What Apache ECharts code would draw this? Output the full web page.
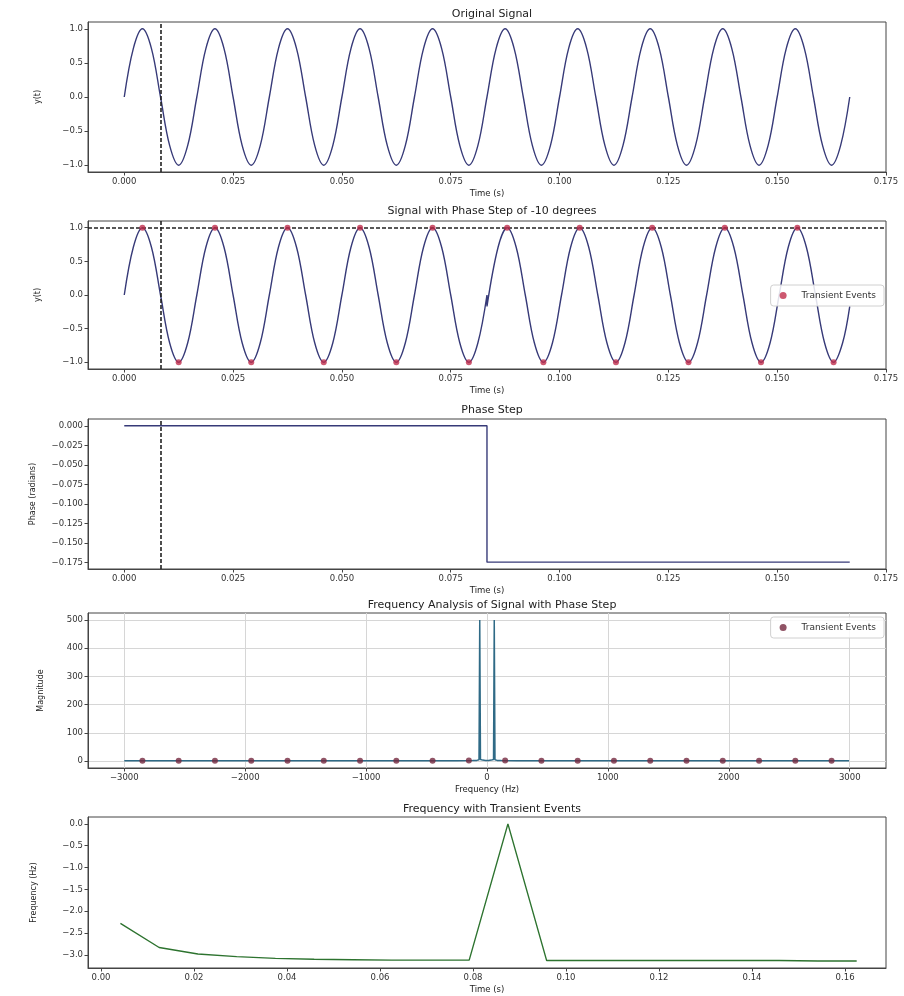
<!DOCTYPE html>
<html>
<head>
<meta charset="utf-8">
<title>Phase step analysis</title>
<script src="https://cdn.jsdelivr.net/npm/echarts@6/dist/echarts.min.js"></script>
<style>
  html, body { margin: 0; padding: 0; background: #fff; }
  #chart { width: 904px; height: 996px; }
</style>
</head>
<body>
<div id="chart"></div>
<script>
// 60 Hz signal, read at every eighth of a period
const signalTime = [0, 0.00208, 0.00417, 0.00625, 0.00833, 0.01042, 0.0125, 0.01458, 0.01667, 0.01875,
  0.02083, 0.02292, 0.025, 0.02708, 0.02917, 0.03125, 0.03333, 0.03542, 0.0375, 0.03958,
  0.04167, 0.04375, 0.04583, 0.04792, 0.05, 0.05208, 0.05417, 0.05625, 0.05833, 0.06042,
  0.0625, 0.06458, 0.06667, 0.06875, 0.07083, 0.07292, 0.075, 0.07708, 0.07917, 0.08125,
  0.08333, 0.08542, 0.0875, 0.08958, 0.09167, 0.09375, 0.09583, 0.09792, 0.1, 0.10208,
  0.10417, 0.10625, 0.10833, 0.11042, 0.1125, 0.11458, 0.11667, 0.11875, 0.12083, 0.12292,
  0.125, 0.12708, 0.12917, 0.13125, 0.13333, 0.13542, 0.1375, 0.13958, 0.14167, 0.14375,
  0.14583, 0.14792, 0.15, 0.15208, 0.15417, 0.15625, 0.15833, 0.16042, 0.1625, 0.16458, 0.16667];
const signalValues = [0, 0.71, 1, 0.71, 0, -0.71, -1, -0.71,
  0, 0.71, 1, 0.71, 0, -0.71, -1, -0.71,
  0, 0.71, 1, 0.71, 0, -0.71, -1, -0.71,
  0, 0.71, 1, 0.71, 0, -0.71, -1, -0.71,
  0, 0.71, 1, 0.71, 0, -0.71, -1, -0.71,
  0, 0.71, 1, 0.71, 0, -0.71, -1, -0.71,
  0, 0.71, 1, 0.71, 0, -0.71, -1, -0.71,
  0, 0.71, 1, 0.71, 0, -0.71, -1, -0.71,
  0, 0.71, 1, 0.71, 0, -0.71, -1, -0.71,
  0, 0.71, 1, 0.71, 0, -0.71, -1, -0.71, 0];

// same signal with a -10 degree phase step at 0.0833 s
const stepTime = [0, 0.00208, 0.00417, 0.00625, 0.00833, 0.01042, 0.0125, 0.01458, 0.01667, 0.01875,
  0.02083, 0.02292, 0.025, 0.02708, 0.02917, 0.03125, 0.03333, 0.03542, 0.0375, 0.03958,
  0.04167, 0.04375, 0.04583, 0.04792, 0.05, 0.05208, 0.05417, 0.05625, 0.05833, 0.06042,
  0.0625, 0.06458, 0.06667, 0.06875, 0.07083, 0.07292, 0.075, 0.07708, 0.07917, 0.08125,
  0.08333, 0.08333, 0.08588, 0.08796, 0.09004, 0.09213, 0.09421, 0.09629, 0.09838, 0.10046,
  0.10254, 0.10463, 0.10671, 0.10879, 0.11088, 0.11296, 0.11504, 0.11713, 0.11921, 0.12129,
  0.12338, 0.12546, 0.12754, 0.12963, 0.13171, 0.13379, 0.13588, 0.13796, 0.14004, 0.14213,
  0.14421, 0.14629, 0.14838, 0.15046, 0.15254, 0.15463, 0.15671, 0.15879, 0.16088, 0.16296,
  0.16504, 0.16667];
const stepValues = [0, 0.71, 1, 0.71, 0, -0.71, -1, -0.71,
  0, 0.71, 1, 0.71, 0, -0.71, -1, -0.71,
  0, 0.71, 1, 0.71, 0, -0.71, -1, -0.71,
  0, 0.71, 1, 0.71, 0, -0.71, -1, -0.71,
  0, 0.71, 1, 0.71, 0, -0.71, -1, -0.71,
  0, -0.17,
  0.71, 1, 0.71, 0, -0.71, -1, -0.71, 0,
  0.71, 1, 0.71, 0, -0.71, -1, -0.71, 0,
  0.71, 1, 0.71, 0, -0.71, -1, -0.71, 0,
  0.71, 1, 0.71, 0, -0.71, -1, -0.71, 0,
  0.71, 1, 0.71, 0, -0.71, -1, -0.71, -0.17];

// transient events (peaks and troughs)
const eventTime = [0.00417, 0.0125, 0.02083, 0.02917, 0.0375, 0.04583, 0.05417, 0.0625, 0.07083, 0.07917,
  0.08796, 0.09629, 0.10463, 0.11296, 0.12129, 0.12963, 0.13796, 0.14629, 0.15463, 0.16296];
const eventValues = [1, -1, 1, -1, 1, -1, 1, -1, 1, -1, 1, -1, 1, -1, 1, -1, 1, -1, 1, -1];

const markerTime = 0.00833;
const thresholdLevel = 1.0;

// phase step
const phaseTime = [0, 0.08333, 0.08333, 0.16667];
const phaseValues = [0, 0, -0.1745, -0.1745];

// spectrum
const fftFreq = [-3000, -1500, -600, -250, -120, -84, -66, -60, -54, -36, -12, 0, 12, 36, 54, 60, 66, 84, 120, 250, 600, 1500, 2994];
const fftMag = [0.3, 0.4, 0.5, 0.8, 1.5, 2, 4, 500, 5, 3, 2, 2, 2, 3, 5, 500, 4, 2, 1.5, 0.8, 0.5, 0.4, 0.3];
const eventFreq = [-2850, -2550, -2250, -1950, -1650, -1350, -1050, -750, -450, -150,
  150, 450, 750, 1050, 1350, 1650, 1950, 2250, 2550, 2850];
const eventMag = [0.4, 0.4, 0.4, 0.5, 0.5, 0.5, 0.6, 0.7, 1, 2, 2, 1, 0.7, 0.6, 0.5, 0.5, 0.5, 0.4, 0.4, 0.4];

// instantaneous frequency at the events
const freqTime = [0.00417, 0.0125, 0.02083, 0.02917, 0.0375, 0.04583, 0.05417, 0.0625, 0.07083, 0.07917,
  0.0875, 0.09583, 0.10417, 0.1125, 0.12083, 0.12917, 0.1375, 0.14583, 0.15417, 0.1625];
const freqValues = [-2.28, -2.83, -2.98, -3.04, -3.08, -3.1, -3.11, -3.12, -3.12, -3.12,
  0.0, -3.13, -3.13, -3.13, -3.13, -3.13, -3.13, -3.13, -3.14, -3.14];

// tick labels
const timeTicks = [0, 0.025, 0.05, 0.075, 0.1, 0.125, 0.15, 0.175];
const ampTicks = [-1, -0.5, 0, 0.5, 1];
const phaseTicks = [0, -0.025, -0.05, -0.075, -0.1, -0.125, -0.15, -0.175];
const freqTicks = [-3000, -2000, -1000, 0, 1000, 2000, 3000];
const magTicks = [0, 100, 200, 300, 400, 500];
const time5Ticks = [0, 0.02, 0.04, 0.06, 0.08, 0.1, 0.12, 0.14, 0.16];
const hzTicks = [0, -0.5, -1, -1.5, -2, -2.5, -3];

const FONT = 'DejaVu Sans';
const lineBlue = '#373a78';
const eventRed = '#c02e4c';
const eventDark = '#74283e';

const pair = (xs, ys) => xs.map((x, i) => [x, ys[i]]);
const fmt = (d) => (v) => (v < 0 ? '\u2212' : '') + Math.abs(v).toFixed(d);

const grids = [
  { top: 22, height: 150 },
  { top: 221, height: 148 },
  { top: 419, height: 150 },
  { top: 613, height: 155 },
  { top: 817, height: 151 }
].map(g => Object.assign({
  left: 88, width: 798, show: true, borderColor: '#444', borderWidth: 1, containLabel: false
}, g));

function xAxis(i, min, max, ticks, digits, name, grid) {
  return {
    type: 'value', gridIndex: i, min, max,
    name, nameLocation: 'middle', nameGap: 17,
    nameTextStyle: { fontFamily: FONT, fontSize: 8.5, color: '#222' },
    axisLine: { show: true, onZero: false, lineStyle: { color: '#444' } },
    axisTick: { show: true, length: 3.5, customValues: ticks, lineStyle: { color: '#444' } },
    axisLabel: { customValues: ticks, formatter: fmt(digits), fontFamily: FONT, fontSize: 8.5, color: '#333', margin: 5 },
    splitLine: { show: !!grid, lineStyle: { color: '#d6d6d6', width: 1 } }
  };
}

function yAxis(i, min, max, ticks, digits, name, gap, grid) {
  return {
    type: 'value', gridIndex: i, min, max,
    name, nameLocation: 'middle', nameGap: gap,
    nameTextStyle: { fontFamily: FONT, fontSize: 8, color: '#222' },
    axisLine: { show: true, onZero: false, lineStyle: { color: '#444' } },
    axisTick: { show: true, length: 3.5, customValues: ticks, lineStyle: { color: '#444' } },
    axisLabel: { customValues: ticks, formatter: fmt(digits), fontFamily: FONT, fontSize: 8.5, color: '#333', margin: 5 },
    splitLine: { show: !!grid, lineStyle: { color: '#d6d6d6', width: 1 } }
  };
}

const titles = ['Original Signal', 'Signal with Phase Step of -10 degrees', 'Phase Step',
  'Frequency Analysis of Signal with Phase Step', 'Frequency with Transient Events'];
const titleTops = [4, 201, 400, 595, 799];

const dashLine = { color: '#222', type: [4, 2], width: 1.6 };
const dashedV = {
  silent: true, symbol: 'none', precision: 5, label: { show: false },
  lineStyle: dashLine,
  data: [{ xAxis: markerTime }]
};

const legendBase = {
  orient: 'vertical', itemWidth: 7, itemHeight: 7, itemGap: 4,
  backgroundColor: 'rgba(255,255,255,0.85)', borderColor: '#d0d0d0', borderWidth: 1, borderRadius: 3,
  padding: [6, 8, 6, 9],
  textStyle: { fontFamily: FONT, fontSize: 9, color: '#333', padding: [0, 0, 0, 10] }
};

const option = {
  animation: false,
  backgroundColor: '#fff',
  title: titles.map((t, i) => ({
    text: t, left: 487, top: titleTops[i], textAlign: 'center',
    textStyle: { fontFamily: FONT, fontSize: 11, fontWeight: 'normal', color: '#222' }
  })),
  legend: [
    Object.assign({}, legendBase, {
      right: 20, top: 285,
      data: [{ name: 'Transient Events', icon: 'circle', itemStyle: { color: eventRed } }]
    }),
    Object.assign({}, legendBase, {
      right: 20, top: 617,
      data: [{ name: 'Transient Events', icon: 'circle', itemStyle: { color: eventDark } }]
    })
  ],
  grid: grids,
  xAxis: [
    xAxis(0, -0.00833, 0.175, timeTicks, 3, 'Time (s)'),
    xAxis(1, -0.00833, 0.175, timeTicks, 3, 'Time (s)'),
    xAxis(2, -0.00833, 0.175, timeTicks, 3, 'Time (s)'),
    xAxis(3, -3300, 3300, freqTicks, 0, 'Frequency (Hz)', true),
    xAxis(4, -0.0028, 0.1688, time5Ticks, 2, 'Time (s)')
  ],
  yAxis: [
    yAxis(0, -1.1, 1.1, ampTicks, 1, 'y(t)', 46),
    yAxis(1, -1.1, 1.1, ampTicks, 1, 'y(t)', 46),
    yAxis(2, -0.1833, 0.0087, phaseTicks, 3, 'Phase (radians)', 51),
    yAxis(3, -25, 525, magTicks, 0, 'Magnitude', 43, true),
    yAxis(4, -3.3, 0.157, hzTicks, 1, 'Frequency (Hz)', 50)
  ],
  series: [
    {
      name: 'Original', type: 'line', xAxisIndex: 0, yAxisIndex: 0,
      data: pair(signalTime, signalValues), smooth: 0.35, showSymbol: false,
      lineStyle: { color: lineBlue, width: 1.4 },
      markLine: dashedV
    },
    {
      name: 'Phase Step Signal', type: 'line', xAxisIndex: 1, yAxisIndex: 1,
      data: pair(stepTime, stepValues), smooth: 0.35, showSymbol: false,
      lineStyle: { color: lineBlue, width: 1.4 },
      markLine: {
        silent: true, symbol: 'none', precision: 5, label: { show: false },
        lineStyle: dashLine,
        data: [{ xAxis: markerTime }, { yAxis: thresholdLevel }]
      }
    },
    {
      name: 'Transient Events', type: 'scatter', xAxisIndex: 1, yAxisIndex: 1,
      data: pair(eventTime, eventValues), symbolSize: 6,
      itemStyle: { color: eventRed }, z: 5
    },
    {
      name: 'Phase', type: 'line', xAxisIndex: 2, yAxisIndex: 2,
      data: pair(phaseTime, phaseValues), showSymbol: false,
      lineStyle: { color: lineBlue, width: 1.4 },
      markLine: dashedV
    },
    {
      name: 'Spectrum', type: 'line', xAxisIndex: 3, yAxisIndex: 3,
      data: pair(fftFreq, fftMag), showSymbol: false,
      lineStyle: { color: '#2f6a86', width: 1.5 }
    },
    {
      name: 'Transient Events', type: 'scatter', xAxisIndex: 3, yAxisIndex: 3,
      data: pair(eventFreq, eventMag), symbolSize: 6,
      itemStyle: { color: eventDark }, z: 5
    },
    {
      name: 'Instantaneous Frequency', type: 'line', xAxisIndex: 4, yAxisIndex: 4,
      data: pair(freqTime, freqValues), showSymbol: false,
      lineStyle: { color: '#2d732f', width: 1.4 }
    }
  ]
};

const chart = echarts.init(document.getElementById('chart'), null, { renderer: 'canvas' });
chart.setOption(option);
</script>
</body>
</html>
